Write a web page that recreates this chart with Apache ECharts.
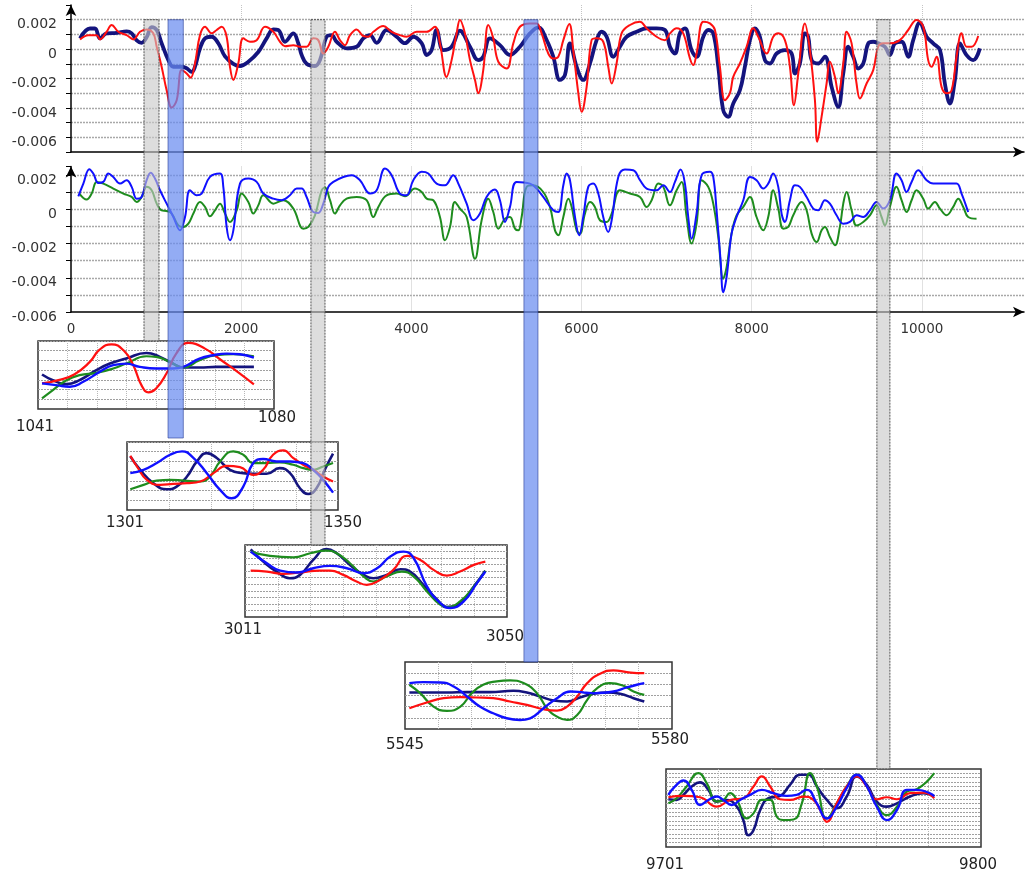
<!DOCTYPE html>
<html><head><meta charset="utf-8">
<script src="https://cdn.jsdelivr.net/npm/echarts@6/dist/echarts.min.js"></script>
<style>html,body{margin:0;padding:0;background:#fff}#c{width:1028px;height:878px}</style>
</head><body><div id="c"></div>
<script>
// ---------- main panels (values in units of 0.001) ----------
const navyPts = [[106,0.73],[223,1.4],[282,1.4],[341,0.73],[419,1.07],[537,1.1],[654,1.2],[713,1.07],[772,0.6],[830,0.43],[889,0.8],[948,1.5],[1007,1.3],[1065,0.4],[1144,-0.75],[1203,-1.2],[1300,-1.2],[1359,-1.3],[1418,-1.55],[1457,-1.2],[1516,0.05],[1575,0.73],[1653,0.84],[1731,0.4],[1810,-0.5],[1908,-1.0],[1986,-1.15],[2084,-0.86],[2201,-0.2],[2299,0.73],[2378,1.34],[2436,1.3],[2515,0.5],[2613,1.07],[2671,0.4],[2711,-0.4],[2769,-1.0],[2867,-1.15],[2926,-0.75],[3004,0.84],[3063,0.95],[3122,0.5],[3239,0.05],[3357,0.16],[3435,0.73],[3514,0.95],[3592,0.43],[3709,1.3],[3827,0.84],[3925,0.4],[4023,0.84],[4121,0.4],[4180,-0.4],[4238,-0.07],[4297,1.3],[4375,-0.07],[4473,0.16],[4571,1.25],[4689,0.16],[4786,-0.75],[4845,-0.52],[4924,0.73],[5041,0.27],[5159,-0.4],[5276,0.16],[5394,1.07],[5492,1.48],[5590,0.61],[5668,-0.52],[5746,-2.1],[5805,-1.77],[5864,0.39],[5942,-1.2],[6020,-2.1],[6099,-0.98],[6177,0.61],[6236,1.18],[6295,0.84],[6373,-0.52],[6451,0.16],[6530,0.84],[6647,1.18],[6765,1.41],[6882,1.41],[6980,1.3],[7039,0.16],[7098,-0.3],[7156,1.07],[7215,1.41],[7293,-0.07],[7352,-0.52],[7431,0.84],[7489,1.3],[7548,1.07],[7607,-1.2],[7665,-4.16],[7724,-4.61],[7783,-3.7],[7861,-2.8],[7920,-1.2],[7979,0.61],[8038,1.41],[8096,0.84],[8155,-0.75],[8214,-0.98],[8292,-0.3],[8390,-0.07],[8469,-0.3],[8508,-1.66],[8566,-0.98],[8625,1.07],[8664,0.84],[8704,-0.75],[8782,-0.98],[8860,-0.52],[8939,-2.57],[9017,-3.93],[9076,-1.66],[9134,0.16],[9193,-0.52],[9252,-1.32],[9311,-0.98],[9370,0.39],[9428,0.5],[9487,0.39],[9565,0.16],[9624,-0.41],[9683,0.39],[9761,0.5],[9839,-0.52],[9898,0.61],[9976,1.8],[10055,0.84],[10133,0.39],[10212,-0.07],[10270,-2.34],[10329,-3.7],[10388,-2.1],[10447,0.39],[10525,-0.41],[10603,-0.75],[10682,0.05]];
const redPts = [[106,0.66],[204,0.95],[302,0.95],[341,0.66],[419,1.18],[478,1.64],[556,1.18],[654,0.95],[733,0.66],[811,1.18],[889,1.34],[967,1.07],[1007,0.16],[1065,-1.2],[1124,-2.8],[1183,-3.98],[1242,-3.48],[1300,-1.43],[1359,-1.66],[1406,-1.95],[1457,-0.98],[1516,0.95],[1575,1.52],[1653,1.07],[1712,1.3],[1770,1.52],[1829,0.84],[1868,-1.2],[1908,-2.1],[1966,-0.98],[2025,0.73],[2103,0.5],[2182,0.61],[2280,1.52],[2378,1.18],[2456,0.5],[2515,0.2],[2613,0.27],[2691,0.16],[2769,0.16],[2848,0.73],[2906,0.61],[2965,-0.3],[3024,0.16],[3102,1.18],[3161,0.61],[3220,0.27],[3279,0.95],[3357,1.34],[3435,0.89],[3494,0.84],[3553,1.18],[3670,1.57],[3768,1.18],[3866,0.95],[3944,0.84],[4062,1.18],[4180,1.18],[4277,1.52],[4336,0.39],[4414,-1.89],[4473,-0.75],[4532,1.07],[4571,1.98],[4630,1.07],[4689,-0.75],[4748,-2.1],[4786,-3.0],[4845,-1.43],[4904,1.64],[4963,0.73],[5022,-0.86],[5120,-1.32],[5198,0.39],[5276,1.52],[5394,1.75],[5472,1.75],[5531,1.07],[5609,-0.3],[5668,-0.64],[5727,-0.52],[5786,0.61],[5856,1.7],[5903,-0.07],[5962,-3.0],[6001,-4.27],[6060,-2.57],[6118,0.61],[6177,0.73],[6255,0.5],[6314,-1.2],[6354,-2.34],[6412,-0.98],[6471,1.07],[6569,1.64],[6687,1.86],[6765,1.41],[6882,0.84],[6980,0.61],[7039,1.07],[7117,1.41],[7195,1.07],[7274,-0.64],[7313,-1.09],[7352,-0.3],[7431,1.86],[7509,1.75],[7568,1.3],[7626,-1.2],[7685,-3.48],[7744,-3.0],[7783,-1.89],[7861,-0.98],[7940,0.16],[8018,1.41],[8077,0.84],[8175,-0.3],[8253,0.84],[8312,1.07],[8390,0.61],[8449,-1.2],[8496,-3.82],[8547,-1.66],[8625,1.75],[8684,-0.07],[8743,-3.48],[8770,-6.3],[8821,-4.61],[8880,-2.34],[8919,-0.86],[8978,-1.89],[9017,-3.0],[9076,-0.98],[9115,1.18],[9174,0.39],[9232,-2.34],[9272,-3.36],[9350,-2.34],[9428,-1.43],[9487,0.16],[9546,0.39],[9624,0.39],[9741,0.61],[9839,1.3],[9937,1.98],[10016,1.52],[10074,-0.75],[10114,-1.2],[10172,-0.52],[10231,-2.57],[10290,-3.0],[10349,-2.8],[10407,-0.52],[10466,1.07],[10525,0.16],[10584,0.16],[10662,0.89]];
const bluePts = [[86,0.76],[145,1.5],[215,2.34],[262,2.09],[321,1.54],[380,1.6],[439,2.09],[497,1.89],[576,1.5],[654,1.7],[713,1.31],[772,0.62],[830,0.72],[889,1.7],[936,2.13],[987,1.8],[1046,1.11],[1124,0.33],[1203,-0.45],[1281,-1.23],[1340,-0.45],[1398,1.11],[1477,0.82],[1535,0.92],[1633,1.89],[1751,2.09],[1790,1.31],[1829,-1.03],[1868,-1.81],[1908,-1.23],[1986,1.5],[2084,1.8],[2182,1.6],[2260,0.92],[2378,0.62],[2476,0.53],[2573,0.82],[2652,1.21],[2711,1.21],[2769,0.72],[2848,-0.16],[2906,-0.21],[2965,0.33],[3024,1.31],[3083,1.6],[3200,1.89],[3298,1.99],[3396,1.7],[3514,0.92],[3592,1.11],[3690,2.38],[3768,1.99],[3866,0.92],[3944,0.82],[4023,1.7],[4121,2.19],[4199,2.09],[4297,1.5],[4395,1.4],[4493,1.99],[4552,1.5],[4650,0.33],[4728,-0.64],[4806,-0.25],[4884,0.72],[4982,1.15],[5041,0.53],[5100,-0.74],[5159,0.14],[5237,1.6],[5394,1.5],[5472,1.21],[5550,0.72],[5668,-0.06],[5727,-0.16],[5786,1.4],[5825,2.09],[5864,1.7],[5923,-0.45],[5973,-1.52],[6020,-0.45],[6079,1.31],[6138,1.5],[6197,0.92],[6255,-0.45],[6314,-1.33],[6354,-0.64],[6432,1.89],[6510,2.32],[6608,2.28],[6687,1.7],[6765,1.21],[6882,1.11],[6961,1.4],[7039,1.01],[7098,1.6],[7164,2.32],[7215,1.5],[7254,-0.45],[7293,-1.72],[7352,-0.25],[7411,1.99],[7509,2.19],[7548,1.89],[7587,-0.06],[7634,-2.99],[7665,-4.84],[7705,-3.96],[7763,-1.42],[7822,-0.45],[7901,0.53],[7979,1.89],[8057,1.7],[8136,1.21],[8194,1.5],[8253,2.09],[8312,1.31],[8351,-0.25],[8390,-0.74],[8449,0.53],[8508,1.4],[8566,1.31],[8645,0.72],[8723,0.04],[8782,-0.06],[8860,0.53],[8919,0.33],[8997,-0.35],[9076,-0.84],[9154,-0.74],[9232,-0.35],[9311,-0.45],[9389,-0.06],[9467,0.43],[9546,0.04],[9624,0.53],[9702,2.09],[9761,1.7],[9820,1.01],[9879,1.6],[9957,2.28],[10055,1.7],[10133,1.5],[10251,1.5],[10407,1.5],[10466,0.92],[10544,-0.16]];
const greenPts = [[98,0.92],[184,0.57],[243,0.92],[302,1.6],[380,1.5],[497,1.21],[615,0.92],[713,0.72],[772,0.43],[830,0.72],[889,1.31],[948,1.11],[1007,0.33],[1065,-0.06],[1124,-0.1],[1183,-0.25],[1261,-0.94],[1320,-1.03],[1379,-0.84],[1438,-0.25],[1516,0.43],[1575,0.14],[1633,-0.41],[1692,-0.06],[1751,0.33],[1810,-0.25],[1868,-0.74],[1947,-0.06],[2005,0.92],[2084,0.43],[2143,-0.25],[2201,0.23],[2260,0.82],[2378,0.33],[2495,0.53],[2613,0.04],[2730,-1.13],[2789,-1.03],[2867,-0.35],[2946,1.11],[2985,1.27],[3044,0.53],[3102,-0.25],[3161,0.23],[3239,0.62],[3357,0.72],[3474,0.53],[3553,-0.45],[3612,0.14],[3709,0.82],[3827,0.92],[3925,0.76],[4042,1.21],[4121,1.01],[4180,0.62],[4258,0.53],[4336,-0.45],[4395,-1.81],[4454,-1.03],[4512,0.43],[4571,0.04],[4650,-0.45],[4748,-2.89],[4826,-0.64],[4904,0.62],[4963,-0.16],[5022,-1.13],[5100,-0.55],[5159,-0.45],[5218,-1.13],[5257,-1.23],[5296,-0.45],[5355,1.31],[5433,1.4],[5550,1.01],[5629,0.14],[5688,-1.23],[5727,-1.52],[5786,-0.45],[5845,0.62],[5884,0.14],[5942,-1.23],[5981,-1.42],[6040,-0.25],[6099,0.43],[6157,0.14],[6216,-0.64],[6295,-0.74],[6354,-0.25],[6451,1.11],[6569,0.92],[6687,0.72],[6765,0.14],[6824,0.53],[6902,1.5],[6961,1.31],[7039,0.23],[7117,1.11],[7176,1.6],[7235,-0.45],[7293,-2.0],[7352,-0.84],[7411,1.7],[7489,1.31],[7548,0.33],[7607,-1.62],[7665,-4.06],[7705,-3.38],[7763,-1.42],[7822,-0.35],[7901,0.14],[7979,0.72],[8057,-0.45],[8136,-1.23],[8194,-0.45],[8253,1.11],[8312,0.04],[8370,-1.13],[8429,-1.03],[8488,-0.35],[8586,0.43],[8645,-0.06],[8704,-1.42],[8763,-1.91],[8821,-1.23],[8860,-1.03],[8919,-1.62],[8978,-2.1],[9036,-1.03],[9076,0.33],[9115,1.01],[9174,-0.06],[9232,-0.94],[9311,-0.74],[9389,-0.35],[9467,0.23],[9526,-0.45],[9565,-0.94],[9624,0.14],[9702,1.31],[9761,0.53],[9820,-0.16],[9879,0.53],[9937,1.11],[10016,0.62],[10074,0.04],[10153,0.43],[10212,0.04],[10290,-0.35],[10368,0.14],[10427,0.62],[10486,0.14],[10544,-0.45],[10642,-0.55]];

// ---------- inset windows (relative level 0..100) ----------
const inset1Navy = [[1041,50.7],[1043,42.4],[1045.5,36.6],[1047.9,42.4],[1051,57.1],[1053.5,66.8],[1056.5,74.1],[1060.2,82.4],[1062.7,76.6],[1065.1,66.8],[1067,61],[1070,61],[1073.1,62],[1076.2,62],[1080,62]];
const inset1Green = [[1041,15.6],[1043,27.8],[1045.5,42.4],[1047.9,49.8],[1051,53.2],[1054.1,59.5],[1056.5,66.8],[1060.2,77.6],[1062,76.6],[1064.5,69.3],[1067,61],[1070,71.7],[1073.1,79],[1076.2,80.5],[1080,77.6]];
const inset1Red = [[1041,37.6],[1044,42.4],[1047,51.2],[1049.8,69.3],[1051.6,87.3],[1053.8,95.1],[1056,86.3],[1057.8,64.4],[1059.3,35.1],[1060.6,24.4],[1062,30.2],[1063.9,52.2],[1065.7,81.5],[1067.9,97.1],[1071,88.8],[1074,71.7],[1077,54.6],[1080,36.1]];
const inset1Blue = [[1041,37.6],[1043.6,35.1],[1046.1,32.7],[1048.6,40],[1051.6,54.6],[1054.1,64.4],[1056.5,66.8],[1059,62],[1062,59.5],[1065.1,59.5],[1067,62],[1070,74.1],[1072.5,79],[1075,81.5],[1077.4,80.5],[1080,75.6]];

const inset2Navy = [[1301,78.8],[1303.4,59.1],[1306.6,39.4],[1309.8,30.5],[1312.2,34.5],[1314.7,49.3],[1317.1,71.4],[1319.5,83.7],[1321.9,76.4],[1325.1,59.1],[1328.3,54.2],[1330.7,53.2],[1333.9,53.2],[1337.1,61.6],[1339.6,54.2],[1342,32],[1344,23.6],[1346,32],[1348,59.1],[1350,82.8]];
const inset2Green = [[1301,30.5],[1304.2,36.9],[1307.4,43.3],[1310.6,44.3],[1313.9,43.3],[1317.9,41.9],[1320.3,49.3],[1322.7,71.4],[1325.9,86.2],[1328.3,81.3],[1330.7,69],[1333.9,69],[1337.1,70],[1340.4,66.5],[1342.8,61.6],[1345.2,59.1],[1347.6,64],[1350,69]];
const inset2Red = [[1301,79.8],[1302.6,64],[1305,44.3],[1308.2,36.9],[1311.4,38.4],[1314.7,39.4],[1317.9,41.9],[1321.1,54.2],[1324.3,65],[1327.5,63.1],[1330.7,51.7],[1333.1,59.1],[1335.5,81.3],[1338,87.7],[1340.4,76.4],[1342.8,66.5],[1345.2,59.1],[1347.6,49.3],[1350,41.9]];
const inset2Blue = [[1301,54.2],[1304.2,59.1],[1307.4,69],[1310.6,81.3],[1313.5,86.2],[1316.3,76.4],[1319.5,54.2],[1322.7,29.6],[1325.5,17.2],[1328.3,34.5],[1330.7,69],[1333.1,74.9],[1336.3,71.4],[1339.6,71.4],[1342.8,69],[1345.2,59.1],[1347.6,44.3],[1350,25.6]];

const inset3Navy = [[3011,94],[3013.1,77],[3015.3,63.1],[3017.5,53.9],[3019.2,58.5],[3021.4,79.3],[3023.6,94.5],[3025.3,88.5],[3027.5,72.4],[3029.8,58.5],[3031.4,53.9],[3033.6,58.5],[3035.9,66.4],[3037.5,63.1],[3039.7,44.7],[3042,24],[3043.6,13.8],[3045.8,19.4],[3048.1,42.4],[3050,64.1]];
const inset3Green = [[3011,90.8],[3014.2,84.8],[3018.1,82.9],[3020.9,88.5],[3023.6,92.2],[3025.3,88.5],[3027.5,74.7],[3029.8,56.2],[3031.4,49.3],[3033.6,56.2],[3036.1,63.1],[3038.1,56.2],[3040.3,35.5],[3042.5,17.1],[3043.6,13.8],[3045.8,21.7],[3048.1,42.4],[3050,64.1]];
const inset3Red = [[3011,64.5],[3013.7,63.1],[3016.4,59.9],[3019.2,61.8],[3022.5,64.5],[3024.2,64.5],[3026.4,58.5],[3028.6,49.3],[3030.3,44.7],[3032.5,51.6],[3034.7,65.4],[3037,84.8],[3039.2,79.3],[3041.4,65.4],[3043.6,57.6],[3045.8,63.1],[3048.1,72.4],[3050,77]];
const inset3Blue = [[3011,90.8],[3013.7,74.7],[3015.9,64.5],[3018.7,61.8],[3021.4,67.7],[3024.2,71],[3027,67.7],[3029.8,60.8],[3032,67.7],[3034.2,83.9],[3036.4,90.8],[3038.1,81.6],[3040.3,42.4],[3042.5,19.4],[3044.2,12.4],[3046.4,21.7],[3048.6,47],[3050,63.1]];

const inset4Navy = [[5545,54.5],[5548.1,54.5],[5550.6,54.5],[5553.6,55],[5557,55],[5560.5,57],[5562.5,54.5],[5564.5,48.5],[5566.5,42.5],[5568.5,41],[5570.5,47.5],[5572.4,52.5],[5574.4,54.5],[5576.4,52.5],[5578.4,46],[5580,41]];
const inset4Green = [[5545,66],[5546.6,53.5],[5548.6,33.5],[5550.6,27],[5552.6,33.5],[5554.3,53.5],[5556,66],[5558,71],[5560,72.5],[5562,68.5],[5564,53.5],[5565.5,31],[5567,18.5],[5568.5,13.5],[5570,21],[5571.5,43.5],[5573,61],[5574.9,68.5],[5576.9,64.5],[5578.4,56],[5580,51]];
const inset4Red = [[5545,31],[5547.6,39.5],[5550.1,46],[5552.6,47.5],[5555,47],[5557.5,46],[5560,41],[5562.5,36],[5565,29.5],[5567,27.5],[5568.5,33.5],[5570,48.5],[5571.5,68.5],[5573.4,82.5],[5575.4,87.5],[5577.4,85],[5578.9,83.5],[5580,83.5]];
const inset4Blue = [[5545,68.5],[5547.1,70],[5549.6,69.5],[5551.6,63.5],[5553.6,48.5],[5555.5,33.5],[5557.5,23.5],[5559.5,16],[5561.5,13.5],[5563,16],[5565,31],[5567,46],[5569,56],[5571,54.5],[5572.9,53.5],[5575.4,56],[5577.4,62],[5578.9,66],[5580,68.5]];

const inset5Navy = [[9701,61.2],[9704.1,60.3],[9706.6,66.8],[9709.7,77.6],[9712.8,82.8],[9715.9,73.3],[9719,58.2],[9722.7,60.3],[9726.5,51.7],[9728.9,34.5],[9730.8,15.1],[9732.7,21.6],[9735.2,47.4],[9738.3,62.5],[9742.6,65.5],[9746.3,79.7],[9750.1,92.7],[9753.2,92.7],[9756.3,77.6],[9760,60.3],[9763.7,49.6],[9767.4,64.7],[9771.2,90.5],[9774.9,79.7],[9778.6,58.2],[9782.4,51.7],[9786.1,56],[9791,64.7],[9796,69],[9800,64.7]];
const inset5Green = [[9701,56],[9704.1,62.5],[9707.8,77.6],[9712.2,94.8],[9715.3,81.9],[9719,58.2],[9721.5,60.3],[9724,69],[9726.5,60.3],[9730.2,36.6],[9732.7,43.1],[9735.8,60.3],[9738.9,60.3],[9741.4,38.8],[9743.8,34.5],[9747.6,35.3],[9750.7,56],[9753.8,94.8],[9756.3,77.6],[9760,36.6],[9763.7,56],[9767.4,77.6],[9771.2,92.7],[9774.9,77.6],[9778.6,53.9],[9782.4,40.9],[9786.1,51.7],[9789.8,71.1],[9793.5,74.1],[9800,94.8]];
const inset5Red = [[9701,63.8],[9706.6,65.5],[9712.8,63.8],[9719,51.7],[9724,60.3],[9728.9,62.5],[9732.7,77.6],[9735.8,90.5],[9738.9,77.6],[9742.6,61.2],[9746.3,60.3],[9751.3,64.7],[9755,60.3],[9757.5,47.4],[9760,32.3],[9763.7,56],[9767.4,77.6],[9771.2,90.5],[9774.9,77.6],[9778.6,61.2],[9782.4,63.8],[9786.1,61.2],[9791,69],[9796,69.8],[9800,62.5]];
const inset5Blue = [[9701,66.8],[9703.5,77.6],[9706.6,85.3],[9709.7,73.3],[9712.8,53.9],[9715.9,60.3],[9719,64.7],[9721.5,60.3],[9724.6,53.9],[9727.7,60.3],[9731.4,66.8],[9735.8,73.3],[9740.1,69],[9745.1,65.5],[9748.8,66.8],[9752.5,73.3],[9756.3,56],[9760,36.6],[9763.7,51.7],[9767.4,75.4],[9771.2,92.7],[9774.9,77.6],[9778.6,51.7],[9782.4,34.5],[9786.1,47.4],[9789.8,73.3],[9793.5,73.3],[9800,65.5]];

const insetLabels = [['1041','1080'],['1301','1350'],['3011','3050'],['5545','5580'],['9701','9800']];
const insetSeries = [
  [inset1Navy, inset1Green, inset1Red, inset1Blue],
  [inset2Navy, inset2Green, inset2Red, inset2Blue],
  [inset3Navy, inset3Green, inset3Red, inset3Blue],
  [inset4Navy, inset4Green, inset4Red, inset4Blue],
  [inset5Navy, inset5Green, inset5Red, inset5Blue]
];
// highlighted x ranges on the main axis, and which inset each leads to
const bandFrom = [858, 1140, 2820, 5323, 9471];
const bandTo   = [1034, 1320, 2985, 5488, 9624];
const bandKind = ['gray', 'blue', 'gray', 'blue', 'gray'];

// ---------- layout ----------
const FONT = 'DejaVu Sans';
const insetLayout = [
  {left:38,  top:341, width:236, height:68, xMin:1040.26, xMax:1083.7,  vDiv:8, hDiv:7,  lab:[[-3,18],[3,9]],  gap:0},
  {left:127, top:442, width:211, height:68, xMin:1300.2,  xMax:1351.2,  vDiv:5, hDiv:7,  lab:[[-2,13],[5,13]], gap:4},
  {left:245, top:545, width:262, height:72, xMin:3010.06, xMax:3053.6,  vDiv:8, hDiv:11, lab:[[-2,13],[-2,20]], gap:0},
  {left:405, top:662, width:267, height:67, xMin:5544.35, xMax:5584.13, vDiv:8, hDiv:6,  lab:[[0,16],[-2,11]], gap:0},
  {left:666, top:769, width:315, height:78, xMin:9700.13, xMax:9817.4,  vDiv:6, hDiv:18, lab:[[-1,18],[-3,18]], gap:0}
];
const COLORS = {navy:'#14147e', green:'#1e8c1e', red:'#ff1010', blue:'#1010ff'};

const toReal = pts => pts.map(p => [p[0], p[1] * 1e-3]);
const mainLabel = v => {
  const m = v * 1000, r = Math.round(m);
  if (Math.abs(m - r) > 1e-6 || r % 2 !== 0) return '';
  return r === 0 ? '0' : (r / 1000).toFixed(3);
};
const axisLineStyle = {color:'#000', width:1.5};
const yLabelStyle = {show:true, margin:14, color:'#333', fontFamily:FONT, fontSize:14,
  verticalAlign:'top', lineHeight:10, formatter:mainLabel};

const grid = [
  {left:71, top:5, width:953, height:147, outerBoundsMode:'none', containLabel:false},
  {left:71, top:166.5, width:953, height:145.5, outerBoundsMode:'none', containLabel:false}
];
const xAxis = [
  {type:'value', gridIndex:0, min:0, max:11200, interval:2000,
   axisLine:{show:true, onZero:false, lineStyle:axisLineStyle, symbol:['none','arrow'], symbolSize:[8,11]},
   axisTick:{show:false}, axisLabel:{show:false},
   splitLine:{show:true, showMinLine:false, showMaxLine:false, lineStyle:{color:'#c4c4c4', type:'dotted', width:1}}},
  {type:'value', gridIndex:1, min:0, max:11200, interval:2000,
   axisLine:{show:true, onZero:false, lineStyle:axisLineStyle, symbol:['none','arrow'], symbolSize:[8,11]},
   axisTick:{show:false},
   axisLabel:{show:true, margin:10, color:'#333', fontFamily:FONT, fontSize:13.5,
     formatter: v => (Math.abs(v % 2000) < 1e-6 ? String(v) : '')},
   splitLine:{show:true, showMinLine:false, showMaxLine:false, lineStyle:{color:'#c4c4c4', type:'dotted', width:1}}}
];
const yAxis = [
  {type:'value', gridIndex:0, min:-0.007, max:0.003, interval:0.001,
   axisLine:{show:true, onZero:false, lineStyle:axisLineStyle, symbol:['none','arrow'], symbolSize:[8,11]},
   axisTick:{show:true, length:5, lineStyle:{color:'#000', width:1}},
   axisLabel:yLabelStyle,
   splitLine:{show:true, showMinLine:false, showMaxLine:false, lineStyle:{color:'#a8a8a8', type:[2,1], width:1.3}}},
  {type:'value', gridIndex:1, min:-0.006, max:0.0025, interval:0.001,
   axisLine:{show:true, onZero:false, lineStyle:axisLineStyle, symbol:['none','arrow'], symbolSize:[8,11]},
   axisTick:{show:true, length:5, lineStyle:{color:'#000', width:1}},
   axisLabel:yLabelStyle,
   splitLine:{show:true, showMinLine:false, showMaxLine:false, lineStyle:{color:'#a8a8a8', type:[2,1], width:1.3}}}
];
const series = [
  {type:'line', xAxisIndex:0, yAxisIndex:0, data:toReal(navyPts), showSymbol:false, smooth:0.4, lineStyle:{color:COLORS.navy, width:3.8}, z:3},
  {type:'line', xAxisIndex:0, yAxisIndex:0, data:toReal(redPts), showSymbol:false, smooth:0.4, lineStyle:{color:COLORS.red, width:2}, z:3},
  {type:'line', xAxisIndex:1, yAxisIndex:1, data:toReal(greenPts), showSymbol:false, smooth:0.4, lineStyle:{color:COLORS.green, width:2}, z:3},
  {type:'line', xAxisIndex:1, yAxisIndex:1, data:toReal(bluePts), showSymbol:false, smooth:0.4, lineStyle:{color:COLORS.blue, width:2}, z:3}
];
const lineColors = [COLORS.navy, COLORS.green, COLORS.red, COLORS.blue];
const lineWidths = [2.6, 2.2, 2.2, 2.4];

insetLayout.forEach((L, i) => {
  grid.push({left:L.left, top:L.top, width:L.width, height:L.height, show:true,
    borderColor:'#333', borderWidth:1.5, backgroundColor:'transparent', outerBoundsMode:'none', containLabel:false});
  xAxis.push({type:'value', gridIndex:2+i, min:L.xMin, max:L.xMax, interval:+((L.xMax-L.xMin)/L.vDiv).toFixed(4),
    axisLine:{show:false}, axisTick:{show:false}, axisLabel:{show:false},
    splitLine:{show:true, showMinLine:false, showMaxLine:false, lineStyle:{color:'#b8b8b8', type:'dotted', width:1}}});
  yAxis.push({type:'value', gridIndex:2+i, min:0, max:100, interval:+(100/L.hDiv).toFixed(4),
    axisLine:{show:false}, axisTick:{show:false}, axisLabel:{show:false},
    splitLine:{show:true, showMinLine:false, showMaxLine:false, lineStyle:{color:'#a0a0a0', type:[2,1], width:1}}});
  insetSeries[i].forEach((pts, k) => {
    series.push({type:'line', xAxisIndex:2+i, yAxisIndex:2+i, data:pts, showSymbol:false, smooth:0.5,
      lineStyle:{color:lineColors[k], width:lineWidths[k]}, z:3});
  });
});

const chart = echarts.init(document.getElementById('c'), null, {renderer:'canvas', width:1028, height:878});
chart.setOption({
  animation:false,
  backgroundColor:'#fff',
  textStyle:{fontFamily:FONT},
  grid, xAxis, yAxis, series
});

// bands and inset captions, placed through the axes' own scales
const elements = [];
const yTop = chart.convertToPixel({yAxisIndex:0}, 0.002);
bandFrom.forEach((f, i) => {
  const x0 = chart.convertToPixel({xAxisIndex:0}, f);
  const x1 = chart.convertToPixel({xAxisIndex:0}, bandTo[i]);
  const L = insetLayout[i];
  const yBot = L.top - L.gap;
  const gray = bandKind[i] === 'gray';
  elements.push({type:'rect', z:100, silent:true,
    shape:{x:x0, y:yTop, width:x1-x0, height:yBot-yTop},
    style: gray ? {fill:'rgba(200,200,200,0.62)', stroke:'#555', lineWidth:1, lineDash:[2,1]}
                : {fill:'rgba(105,140,240,0.72)', stroke:'rgba(40,60,150,0.6)', lineWidth:1}});
});
insetLayout.forEach((L, i) => {
  const bottom = L.top + L.height;
  [[L.left, L.lab[0]], [L.left + L.width, L.lab[1]]].forEach((e, k) => {
    elements.push({type:'text', z:101, silent:true,
      style:{text:insetLabels[i][k], x:e[0] + e[1][0], y:bottom + e[1][1], fill:'#222',
        font:'15px "' + FONT + '"', align:'center', verticalAlign:'middle'}});
  });
});
chart.setOption({graphic:{elements}});
</script>
</body></html>
